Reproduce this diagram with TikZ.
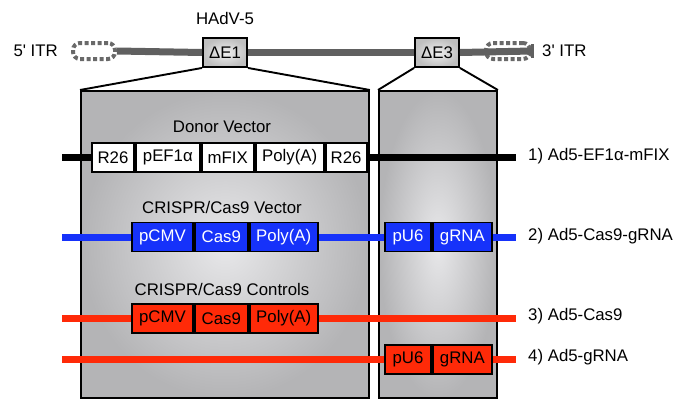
\documentclass[tikz,border=0pt]{standalone}
\usepackage{fontspec}
\setmainfont{Liberation Sans}
\newfontfamily\labfont[Ligatures=NoCommon]{Liberation Sans}
\definecolor{cblue}{RGB}{22,50,250}
\definecolor{cred}{RGB}{255,42,8}
\definecolor{bbgray}{RGB}{96,96,96}
\definecolor{itrgray}{RGB}{105,105,105}
\definecolor{panelin}{RGB}{232,232,234}
\definecolor{panelout}{RGB}{180,180,182}
\tikzset{
  txt/.style={font=\fontsize{16.8}{19}\selectfont, inner sep=0pt},
  seg/.style={txt, draw=black, line width=1.9pt, minimum height=29pt, anchor=west},
  whiteseg/.style={seg, fill=white},
  blueseg/.style={seg, fill=cblue, text=white},
  redseg/.style={seg, fill=cred, text=black},
  panel/.style={draw=black, line width=1.9pt, anchor=north west, inner sep=0pt,
    shading=radial, inner color=panelin, outer color=panelout},
  delta/.style={txt, draw=black, line width=1.9pt, minimum width=44pt, minimum height=29pt,
    shading=radial, inner color=gray!12, outer color=gray!50},
  itrshape/.style={draw=itrgray, line width=4pt, dash pattern=on 4pt off 2.5pt,
    rounded corners=7pt, minimum width=42pt, minimum height=16pt, inner sep=0pt},
  backbone/.style={draw=bbgray, line width=7pt},
  dna/.style={line width=7pt},
  fan/.style={draw=black, line width=1.9pt},
}
\begin{document}
\begin{tikzpicture}[x=1pt,y=-1pt]
\useasboundingbox (0,0) rectangle (688,399);

% expanded regions behind the constructs
\node[panel, minimum width=288pt, minimum height=307pt] (pl) at (80,90) {};
\node[panel, minimum width=118pt, minimum height=307pt] (pr) at (378,90) {};

% adenovirus genome backbone
\node[itrshape] (itrL) at (94,51) {};
\node[itrshape, minimum width=44pt] (itrR) at (508,51) {};
\node[delta] (dE1) at (225,52.5) {ΔE1};
\node[delta] (dE3) at (437,52.5) {ΔE3};
\draw[backbone] (itrL.east) -- (dE1.west);
\draw[backbone] (dE1.east) -- (dE3.west);
\draw[backbone] (dE3.east) -- (itrR.east);
\draw[draw=bbgray, line width=3pt] ([yshift=-7pt]itrR.east) -- ([yshift=7pt]itrR.east);
\node[txt] (hadv) at (225,18) {HAdV-5};
\node[txt, anchor=east] (itr5) at (58,51) {\labfont 5\textquotesingle{} ITR};
\node[txt, anchor=west] (itr3) at (542,51) {\labfont 3\textquotesingle{} ITR};

% fan-out lines to the panels
\draw[fan] (dE1.south west) -- (pl.north west);
\draw[fan] (dE1.south east) -- (pl.north east);
\draw[fan] (dE3.south west) -- (pr.north west);
\draw[fan] (dE3.south east) -- (pr.north east);

% section titles
\node[txt] (tdonor) at (222,127) {Donor Vector};
\node[txt] (tvec) at (222,207) {CRISPR/Cas9 Vector};
\node[txt] (tctl) at (222,289) {CRISPR/Cas9 Controls};

% free ends of the constructs
\coordinate (l1) at (62,157.5); \coordinate (e1) at (516,157.5);
\coordinate (l2) at (62,237);   \coordinate (e2) at (516,237);
\coordinate (l3) at (62,318.5); \coordinate (e3) at (516,318.5);
\coordinate (l4) at (62,359.5); \coordinate (e4) at (516,359.5);

% 1) donor
\draw[dna, black] (l1) -- (e1);
\node[whiteseg, minimum width=42pt] (a1) at (91,157.5) {R26};
\node[whiteseg, minimum width=64pt] (a2) at (a1.east) {pEF1α};
\node[whiteseg, minimum width=52pt] (a3) at (a2.east) {mFIX};
\node[whiteseg, minimum width=68pt] (a4) at (a3.east) {Poly(A)};
\node[whiteseg, minimum width=41pt] (a5) at (a4.east) {R26};

% 2) Cas9 + gRNA
\draw[dna, cblue] (l2) -- (e2);
\node[blueseg, minimum width=61pt] (b1) at (131,237) {pCMV};
\node[blueseg, minimum width=53pt] (b2) at (b1.east) {Cas9};
\node[blueseg, minimum width=68pt] (b3) at (b2.east) {Poly(A)};
\node[blueseg, minimum width=46pt] (b4) at (384,237) {pU6};
\node[blueseg, minimum width=59pt] (b5) at (b4.east) {gRNA};

% 3) Cas9 only
\draw[dna, cred] (l3) -- (e3);
\node[redseg, minimum width=61pt] (c1) at (131,318.5) {pCMV};
\node[redseg, minimum width=53pt] (c2) at (c1.east) {Cas9};
\node[redseg, minimum width=68pt] (c3) at (c2.east) {Poly(A)};

% 4) gRNA only
\draw[dna, cred] (l4) -- (e4);
\node[redseg, minimum width=46pt] (d1) at (384,359.5) {pU6};
\node[redseg, minimum width=59pt] (d2) at (d1.east) {gRNA};

% construct names
\node[txt, anchor=west] (n1) at (528,156) {1) Ad5-EF1α-mFIX};
\node[txt, anchor=west] (n2) at (528,236) {2) Ad5-Cas9-gRNA};
\node[txt, anchor=west] (n3) at (528,316) {3) Ad5-Cas9};
\node[txt, anchor=west] (n4) at (528,357) {4) Ad5-gRNA};
\end{tikzpicture}
\end{document}
